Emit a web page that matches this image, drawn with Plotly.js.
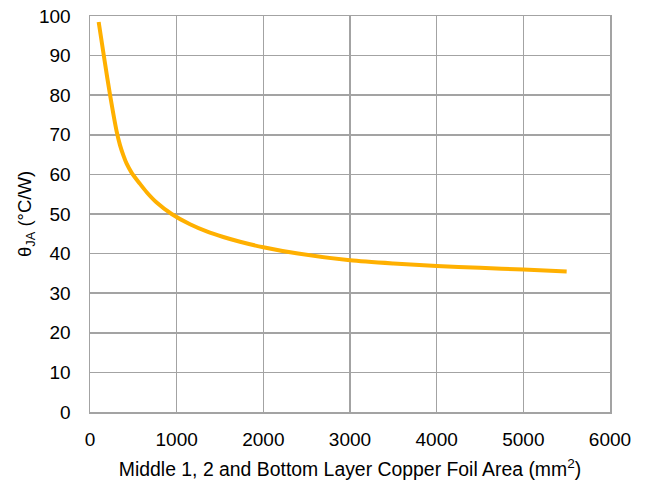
<!DOCTYPE html>
<html>
<head>
<meta charset="utf-8">
<script src="https://cdn.plot.ly/plotly-3.0.1.min.js"></script>
<style>body{margin:0;padding:0;background:#fff}#chart{width:648px;height:486px}</style>
</head>
<body>
<div id="chart"></div>
<script>
const areaMm2 = [100, 170, 231, 308, 346, 385, 423, 481, 577, 654, 769, 942, 1154, 1346, 1538, 1731, 2000, 2400, 3000, 3500, 4000, 4500, 5000, 5500];
const thetaJA = [98.5, 88.5, 80.1, 70.8, 67.4, 64.8, 62.7, 60.4, 57.6, 55.5, 52.9, 50, 47.4, 45.6, 44.2, 43.0, 41.6, 40.0, 38.3, 37.5, 36.9, 36.4, 36.0, 35.5];
const xTicks = [0, 1000, 2000, 3000, 4000, 5000, 6000];
const yTicks = [0, 10, 20, 30, 40, 50, 60, 70, 80, 90, 100];

const font = {family: 'Liberation Sans, Arial, sans-serif', color: '#000'};
Plotly.newPlot('chart', [{
  x: areaMm2, y: thetaJA, type: 'scatter', mode: 'lines',
  line: {color: '#FFB000', width: 4, shape: 'spline', smoothing: 0.7}
}], {
  width: 648, height: 486,
  margin: {l: 90, r: 38, t: 16, b: 74},
  paper_bgcolor: '#fff', plot_bgcolor: '#fff',
  showlegend: false,
  font: font,
  xaxis: {
    range: [0, 6000], tickvals: xTicks, ticktext: xTicks.map(String),
    showgrid: true, gridcolor: '#a3a3a3', gridwidth: 1.5,
    showline: true, linecolor: '#a3a3a3', linewidth: 1.5, mirror: true,
    zeroline: false, ticks: 'outside', ticklen: 10, tickcolor: 'rgba(0,0,0,0)',
    tickfont: {size: 19, family: font.family, color: '#000'},
    title: {text: 'Middle 1, 2 and Bottom Layer Copper Foil Area (mm<sup>2</sup>)', font: {size: 19.4, family: font.family, color: '#000'}, standoff: 13}
  },
  yaxis: {
    range: [0, 100], tickvals: yTicks, ticktext: yTicks.map(String),
    showgrid: true, gridcolor: '#a3a3a3', gridwidth: 1.5,
    showline: true, linecolor: '#a3a3a3', linewidth: 1.5, mirror: true,
    zeroline: false, ticks: 'outside', ticklen: 14, tickcolor: 'rgba(0,0,0,0)',
    tickfont: {size: 19, family: font.family, color: '#000'},
    title: {text: 'θ<sub>JA</sub> (°C/W)', font: {size: 18.5, family: font.family, color: '#000'}, standoff: 2}
  }
}, {displayModeBar: false, staticPlot: true});
</script>
</body>
</html>
